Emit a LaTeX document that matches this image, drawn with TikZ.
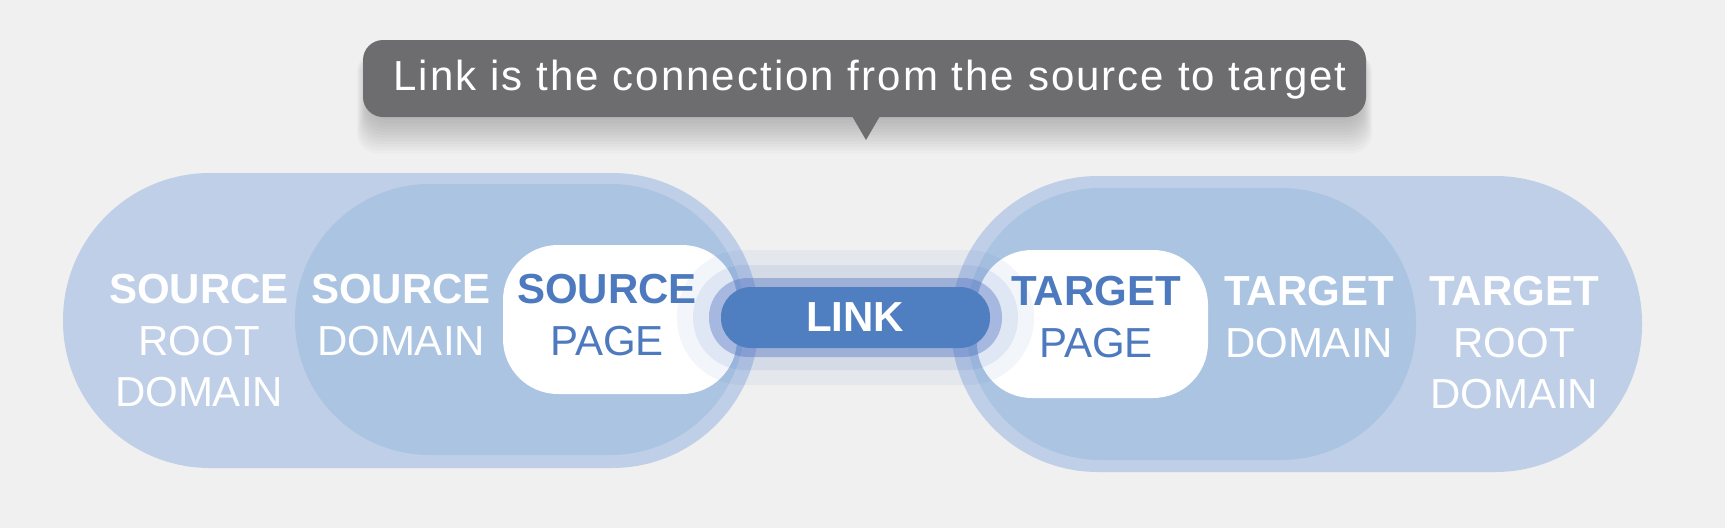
\documentclass[tikz,border=0pt]{standalone}
\usepackage{fontspec}
\setmainfont{Liberation Sans}
\newfontfamily\tipfont[LetterSpace=4.9]{Liberation Sans}
\usetikzlibrary{positioning}
\definecolor{linkbg}{HTML}{EFF0EF}
\definecolor{linkroot}{HTML}{BFCFE7}
\definecolor{linkdomain}{HTML}{AAC4E2}
\definecolor{linkblue}{HTML}{4F7FC0}
\definecolor{linkpagetext}{HTML}{4D7ABE}
\definecolor{linkhalo}{HTML}{4A6CC0}
\definecolor{linktip}{HTML}{6D6D6F}
\tikzstyle{boxtext} = [white, font=\fontsize{42}{51.5}\selectfont, align=center, inner sep=0pt, anchor=north]
\tikzstyle{pagetext} = [boxtext, text=linkpagetext]

\begin{document}
\begin{tikzpicture}[x=1pt, y=-1pt]
\fill[linkbg] (0,0) rectangle (1725,528);
\useasboundingbox (0,0) rectangle (1725,528);

% tooltip with soft shadow
\foreach \i in {1,...,12}
  \fill[black, opacity=0.02, rounded corners=20pt] (369-\i,52) rectangle (1360+\i,117+3*\i);
\fill[linktip, rounded corners=20pt] (363,40) rectangle (1366,117);
\fill[linktip] (852,116) -- (880,116) -- (866,140) -- cycle;
\node[white, font=\tipfont\fontsize{42}{42}\selectfont, anchor=base, inner sep=0pt] (tip) at (870,90) {Link is the connection from the source to target};

% source side
\fill[linkroot, rounded corners=147pt] (63,173) rectangle (759,468);
\fill[linkdomain, rounded corners=135pt] (295,184) rectangle (745,455);
\fill[white, rounded corners=55pt] (503,245) rectangle (737,394);

% target side
\fill[linkroot, rounded corners=147pt] (951,176) rectangle (1642,472);
\fill[linkdomain, rounded corners=135pt] (966,188) rectangle (1416,460);
\fill[white, rounded corners=55pt] (977,250) rectangle (1208,398);

% halo round the link
\foreach \l/\t/\r/\b/\rad/\o in {677/250/1034/385/67/0.065, 693/265/1018/370/52/0.1, 709/278/1002/357/39/0.38}
  \fill[linkhalo, opacity=\o, rounded corners=\rad pt] (\l,\t) rectangle (\r,\b);

% link
\fill[linkblue, rounded corners=30pt] (721,287) rectangle (990,348);
\node[white, font=\bfseries\fontsize{42}{42}\selectfont, inner sep=0pt, anchor=base] (link) at (855,331) {LINK};

% labels
\node[boxtext] (srcroot) at (199,274) {\textbf{SOURCE}\\ROOT\\DOMAIN};
\node[boxtext] (srcdomain) at (401,274) {\textbf{SOURCE}\\DOMAIN};
\node[pagetext] (srcpage) at (607,274) {\textbf{SOURCE}\\PAGE};
\node[pagetext] (tgtpage) at (1096,276) {\textbf{TARGET}\\PAGE};
\node[boxtext] (tgtdomain) at (1309,276) {\textbf{TARGET}\\DOMAIN};
\node[boxtext] (tgtroot) at (1514,276) {\textbf{TARGET}\\ROOT\\DOMAIN};
\end{tikzpicture}
\end{document}
